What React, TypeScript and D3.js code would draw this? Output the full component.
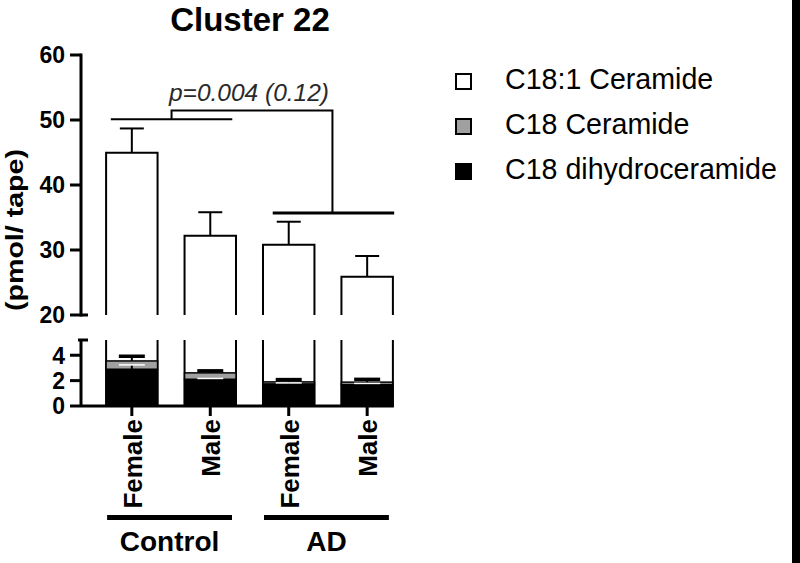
import * as d3 from "d3";

// groups / bars
const groups = ["Control", "Control", "AD", "AD"];
const sexes = ["Female", "Male", "Female", "Male"];

// stacked segments (pmol/tape)
const dihydroMean = [2.88, 2.09, 1.72, 1.68];
const dihydroErr = [0.36, 0.08, 0.1, 0.1];
const c18Mean = [0.67, 0.52, 0.18, 0.2];
const c18Err = [0.37, 0.16, 0.18, 0.22];
const c181Mean = [41.4, 29.6, 28.9, 24.0];
const c181Err = [3.75, 3.6, 3.55, 3.2];

const topTicks = [20, 30, 40, 50, 60];
const botTicks = [0, 2, 4];

const legendItems = [
  { label: "C18:1 Ceramide", fill: "#ffffff" },
  { label: "C18 Ceramide", fill: "#a0a0a0" },
  { label: "C18 dihydroceramide", fill: "#000000" },
];

const FONT = "'Liberation Sans', Arial, sans-serif";

export default function App() {
  const ids = d3.range(sexes.length);
  const x = d3
    .scaleBand<number>()
    .domain(ids)
    .range([81, 418])
    .paddingInner(0.344)
    .paddingOuter(0.32);
  const bw = x.bandwidth();
  const cx = (i: number) => (x(i) as number) + bw / 2;

  const yTop = d3.scaleLinear().domain([20, 60]).range([315, 55]);
  const yBot = d3.scaleLinear().domain([0, 5.2]).range([406, 340]);

  const dihTop = ids.map((i) => dihydroMean[i]);
  const grayTop = ids.map((i) => dihydroMean[i] + c18Mean[i]);
  const total = ids.map((i) => grayTop[i] + c181Mean[i]);

  const axisX = 81;
  const cap = 24;

  // bracket positions
  const ctrlY = yTop(50.1);
  const adY = yTop(35.7);
  const linkY = yTop(51.45);
  const ctrlL = cx(0) - 21;
  const ctrlR = cx(1) + 22;
  const adL = cx(2) - 16;
  const adR = cx(3) + 27;
  const ctrlMid = (ctrlL + ctrlR) / 2;
  const adMid = (adL + adR) / 2 - 1;

  return (
    <svg width={800} height={563} style={{ position: "absolute", left: 0, top: 0, fontFamily: FONT }}>
      <rect width={800} height={563} fill="#fff" />
      <rect x={792} y={0} width={8} height={563} fill="#000" />

      {/* title */}
      <text x={250} y={31} textAnchor="middle" fontSize={33} fontWeight="bold">
        Cluster 22
      </text>

      {/* y label */}
      <text
        transform={`translate(22.5,230) rotate(-90)`}
        textAnchor="middle"
        fontSize={24}
        fontWeight="bold"
        textLength={162}
        lengthAdjust="spacingAndGlyphs"
      >
        (pmol/ tape)
      </text>

      {/* top axis */}
      <line x1={axisX} x2={axisX} y1={yTop(60) - 1.5} y2={yTop(20) + 1.5} stroke="#000" strokeWidth={3} />
      {topTicks.map((t) => (
        <g key={t}>
          <line x1={70} x2={t === 20 ? 88 : axisX} y1={yTop(t)} y2={yTop(t)} stroke="#000" strokeWidth={3} />
          <text x={65} y={yTop(t)} dy="0.36em" textAnchor="end" fontSize={23} fontWeight="bold">
            {t}
          </text>
        </g>
      ))}

      {/* bottom axis */}
      <line x1={axisX} x2={axisX} y1={yBot(5.2)} y2={yBot(0)} stroke="#000" strokeWidth={3} />
      <line x1={78} x2={88} y1={yBot(5.2)} y2={yBot(5.2)} stroke="#000" strokeWidth={3} />
      <line x1={axisX} x2={(x(3) as number) + bw + 1} y1={yBot(0)} y2={yBot(0)} stroke="#000" strokeWidth={3} />
      {botTicks.map((t) => (
        <g key={t}>
          <line x1={70} x2={axisX} y1={yBot(t)} y2={yBot(t)} stroke="#000" strokeWidth={3} />
          <text x={65} y={yBot(t)} dy="0.36em" textAnchor="end" fontSize={23} fontWeight="bold">
            {t}
          </text>
        </g>
      ))}

      {/* bars */}
      {ids.map((i) => {
        const x0 = x(i) as number;
        const x1 = x0 + bw;
        const c = cx(i);
        return (
          <g key={i}>
            {/* top panel white segment */}
            <path
              d={`M${x0},${yTop(20)}V${yTop(total[i])}H${x1}V${yTop(20)}`}
              fill="#fff"
              stroke="#000"
              strokeWidth={2}
            />
            <line x1={c} x2={c} y1={yTop(total[i])} y2={yTop(total[i] + c181Err[i])} stroke="#000" strokeWidth={2} />
            <line
              x1={c - cap / 2}
              x2={c + cap / 2}
              y1={yTop(total[i] + c181Err[i])}
              y2={yTop(total[i] + c181Err[i])}
              stroke="#000"
              strokeWidth={2}
            />

            {/* bottom panel */}
            <path
              d={`M${x0},${yBot(0)}V${yBot(5.2)}M${x1},${yBot(5.2)}V${yBot(0)}`}
              stroke="#000"
              strokeWidth={2}
              fill="none"
            />
            <rect x={x0} y={yBot(grayTop[i])} width={bw} height={yBot(dihTop[i]) - yBot(grayTop[i])} fill="#a0a0a0" stroke="#000" strokeWidth={1.5} />
            <rect x={x0} y={yBot(dihTop[i])} width={bw} height={yBot(0) - yBot(dihTop[i])} fill="#000" stroke="#000" strokeWidth={1.5} />
            {/* dihydro error */}
            <line x1={c} x2={c} y1={yBot(dihTop[i])} y2={yBot(dihTop[i] + dihydroErr[i])} stroke="#000" strokeWidth={2} />
            <line
              x1={c - 13}
              x2={c + 13}
              y1={yBot(dihTop[i] + dihydroErr[i])}
              y2={yBot(dihTop[i] + dihydroErr[i])}
              stroke="#fff"
              strokeWidth={1.5}
            />
            {/* c18 error */}
            <line x1={c} x2={c} y1={yBot(grayTop[i])} y2={yBot(grayTop[i] + c18Err[i])} stroke="#000" strokeWidth={2} />
            <line
              x1={c - 13}
              x2={c + 13}
              y1={yBot(grayTop[i] + c18Err[i])}
              y2={yBot(grayTop[i] + c18Err[i])}
              stroke="#000"
              strokeWidth={3.5}
            />

            {/* x tick + label */}
            <line x1={c} x2={c} y1={yBot(0)} y2={yBot(0) + 10} stroke="#000" strokeWidth={3} />
            <text
              transform={`translate(${c + 10},${419}) rotate(-90)`}
              textAnchor="end"
              fontSize={26}
              fontWeight="bold"
            >
              {sexes[i]}
            </text>
          </g>
        );
      })}

      {/* group lines */}
      {["Control", "AD"].map((g) => {
        const members = ids.filter((i) => groups[i] === g);
        const l = (x(members[0]) as number) + 1;
        const r = (x(members[members.length - 1]) as number) + bw - 4;
        return (
          <g key={g}>
            <line x1={l} x2={r} y1={517.5} y2={517.5} stroke="#000" strokeWidth={5} />
            <text x={(l + r) / 2} y={551} textAnchor="middle" fontSize={28} fontWeight="bold">
              {g}
            </text>
          </g>
        );
      })}

      {/* significance bracket */}
      <g stroke="#000" strokeWidth={2} fill="none">
        <line x1={ctrlL} x2={ctrlR} y1={ctrlY} y2={ctrlY} />
        <line x1={adL} x2={adR} y1={adY} y2={adY} strokeWidth={3} />
        <path d={`M${ctrlMid},${ctrlY}V${linkY}H${adMid}V${adY}`} />
      </g>
      <text x={249} y={101} textAnchor="middle" fontSize={24.5} fontStyle="italic" fill="#2a2a2a">
        p=0.004 (0.12)
      </text>

      {/* legend */}
      {legendItems.map((d, k) => (
        <g key={d.label} transform={`translate(0,${k * 45})`}>
          <rect x={456} y={74} width={15} height={15} fill={d.fill} stroke="#000" strokeWidth={2} />
          <text x={505} y={89} fontSize={28.6}>
            {d.label}
          </text>
        </g>
      ))}
    </svg>
  );
}
